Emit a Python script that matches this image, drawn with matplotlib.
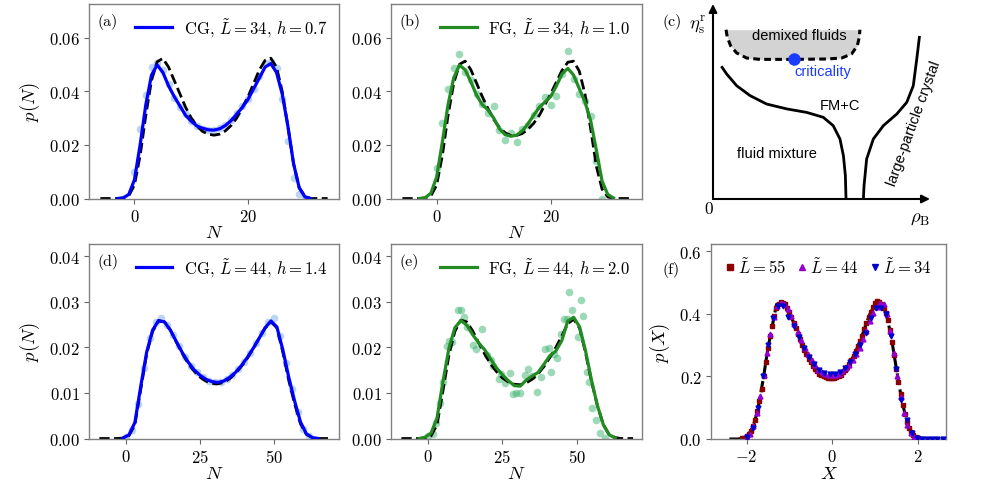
import matplotlib
matplotlib.use("Agg")
import matplotlib.pyplot as plt
import numpy as np

plt.rcParams['font.family'] = 'serif'
plt.rcParams['font.serif'] = ['cmr10']
plt.rcParams['mathtext.fontset'] = 'cm'
plt.rcParams['axes.formatter.use_mathtext'] = True
plt.rcParams['axes.unicode_minus'] = True

# ---------------- data ----------------
# (a) CG, L=34, h=0.7
N_a_th = list(range(-6, 35))
p_a_th = [0, 0, 0, 0, 0.0002, 0.001, 0.005, 0.016, 0.031, 0.044, 0.051, 0.0522, 0.049, 0.044,
          0.039, 0.034, 0.030, 0.027, 0.025, 0.024, 0.0236, 0.024, 0.0252, 0.0272, 0.030, 0.034,
          0.038, 0.043, 0.048, 0.0515, 0.0523, 0.049, 0.040, 0.027, 0.013, 0.004, 0.0008, 0, 0, 0, 0]
N_a_fit = list(range(-3, 32))
p_a_fit = [0, 0.0002, 0.0015, 0.007, 0.020, 0.035, 0.046, 0.0498, 0.047, 0.042, 0.038, 0.0345,
           0.031, 0.0288, 0.027, 0.0262, 0.0256, 0.0255, 0.026, 0.0272, 0.029, 0.0315, 0.034,
           0.037, 0.041, 0.045, 0.049, 0.0503, 0.047, 0.039, 0.027, 0.013, 0.004, 0.0006, 0]
N_a_sim = list(range(0, 31))
p_a_sim = [0.010, 0.026, 0.0385, 0.049, 0.0505, 0.048, 0.0425, 0.0375, 0.034, 0.0315, 0.029,
           0.0272, 0.026, 0.0255, 0.0257, 0.0262, 0.0275, 0.0292, 0.0318, 0.0345, 0.0372, 0.041,
           0.0455, 0.0505, 0.051, 0.0485, 0.037, 0.0215, 0.0075, 0.0015, 0.0002]

# (b) FG, L=34, h=1.0
N_b_th = list(range(-6, 35))
p_b_th = [0, 0, 0, 0, 0.0002, 0.001, 0.005, 0.016, 0.031, 0.043, 0.050, 0.0512, 0.048, 0.043,
          0.038, 0.0335, 0.0295, 0.0265, 0.0245, 0.0235, 0.0235, 0.0242, 0.0258, 0.028, 0.031,
          0.035, 0.039, 0.0435, 0.0478, 0.0508, 0.0512, 0.0475, 0.039, 0.026, 0.012, 0.0035,
          0.0006, 0, 0, 0, 0]
N_b_fit = list(range(-3, 32))
p_b_fit = [0, 0.0003, 0.002, 0.008, 0.021, 0.035, 0.045, 0.0497, 0.048, 0.0435, 0.0385, 0.035,
           0.033, 0.030, 0.026, 0.0238, 0.0232, 0.0236, 0.0252, 0.0278, 0.031, 0.034, 0.036,
           0.038, 0.042, 0.0465, 0.0485, 0.046, 0.041, 0.036, 0.029, 0.018, 0.0065, 0.0015, 0.0002]
N_b_sim = list(range(0, 30))
p_b_sim = [0.0115, 0.0283, 0.041, 0.0488, 0.0538, 0.0473, 0.044, 0.0389, 0.0352, 0.032, 0.0345,
           0.0255, 0.0219, 0.0246, 0.0209, 0.0258, 0.0273, 0.031, 0.0345, 0.0379, 0.0348, 0.0383,
           0.0463, 0.0548, 0.0445, 0.0389, 0.0364, 0.0306, 0.014, 0.0]

# (d) CG, L=44, h=1.4
N_d_th = list(range(-9, 70, 2))
p_d_th = [0, 0, 0, 0, 0.0001, 0.0006, 0.003, 0.0108, 0.0186, 0.0235, 0.0258, 0.0256, 0.0238,
          0.0212, 0.0187, 0.0165, 0.0148, 0.0135, 0.0126, 0.0121, 0.0120, 0.0123, 0.0131, 0.0143,
          0.0158, 0.0176, 0.0197, 0.022, 0.0242, 0.0256, 0.0243, 0.019, 0.0128, 0.0076, 0.0032,
          0.0009, 0.0002, 0, 0, 0]
N_d_fit = list(range(-1, 66, 2))
p_d_fit = [0.0001, 0.0008, 0.0035, 0.0115, 0.019, 0.0238, 0.0259, 0.0256, 0.0238, 0.0213, 0.0189,
           0.0168, 0.0151, 0.0139, 0.0130, 0.0125, 0.0123, 0.0126, 0.0134, 0.0145, 0.016, 0.0178,
           0.0198, 0.022, 0.0243, 0.0258, 0.0245, 0.0195, 0.0135, 0.0082, 0.0036, 0.0010, 0.0002, 0]
N_d_sim = list(range(0, 63, 2))
p_d_sim = [0.0003, 0.0018, 0.0075, 0.0155, 0.022, 0.0255, 0.0265, 0.025, 0.0228, 0.0202, 0.0178,
           0.016, 0.0146, 0.0135, 0.0127, 0.0124, 0.0124, 0.013, 0.0139, 0.0152, 0.0169, 0.0188,
           0.021, 0.0232, 0.0255, 0.0265, 0.0225, 0.0165, 0.0108, 0.0058, 0.002, 0.0005]

# (e) FG, L=44, h=2.0
N_e_th = list(range(-9, 70, 2))
p_e_th = [0, 0, 0, 0, 0.0001, 0.0006, 0.003, 0.0105, 0.0183, 0.0235, 0.026, 0.0256, 0.0236,
          0.021, 0.0186, 0.0164, 0.0147, 0.0133, 0.0124, 0.0119, 0.0118, 0.0122, 0.013, 0.0142,
          0.0158, 0.0178, 0.02, 0.0225, 0.0252, 0.0262, 0.0242, 0.0188, 0.0125, 0.0072, 0.003,
          0.0008, 0.0002, 0, 0, 0]
N_e_fit = list(range(-3, 64, 2))
p_e_fit = [0, 0.0003, 0.0012, 0.0045, 0.0125, 0.0198, 0.0243, 0.0259, 0.0249, 0.0228, 0.021,
           0.0195, 0.0175, 0.0155, 0.014, 0.0127, 0.0116, 0.0115, 0.0128, 0.0137, 0.0145, 0.0163,
           0.0182, 0.0192, 0.0215, 0.0258, 0.0266, 0.0245, 0.0192, 0.0128, 0.0072, 0.003, 0.0008,
           0.0001]
N_e_sim = [0, 1.7, 2.8, 4.0, 5.0, 6.2, 7.1, 8.2, 9.9, 11.1, 12.2, 13.2, 15.0, 16.1, 18.1, 19.8,
           21.0, 22.0, 23.7, 24.6, 26.0, 27.7, 28.6, 29.7, 30.8, 32.5, 33.5, 35.0, 36.7, 38.0,
           39.2, 40.6, 41.5, 42.5, 43.5, 44.6, 45.7, 46.6, 47.4, 48.5, 50.5, 51.4, 52.3, 53.5,
           54.3, 55.3, 56.5, 58.0, 59.5]
p_e_sim = [0.0005, 0.001, 0.0035, 0.0079, 0.0125, 0.0202, 0.0215, 0.0212, 0.0282, 0.0283, 0.0266,
           0.0245, 0.0205, 0.0196, 0.024, 0.0183, 0.0172, 0.016, 0.013, 0.0141, 0.0122, 0.0143,
           0.0097, 0.0100, 0.0100, 0.014, 0.0152, 0.0138, 0.0101, 0.0136, 0.0196, 0.0198,
           0.0146, 0.0185, 0.0176, 0.0229, 0.0262, 0.0262, 0.0321, 0.0282, 0.0222, 0.0303, 0.0268,
           0.0145, 0.0125, 0.0068, 0.004, 0.0013, 0.0002]

# (f) scaled order-parameter distribution
X_th = [round(-2.4 + 0.1 * i, 2) for i in range(51)]
pX_th = [0, 0, 0, 0.002, 0.008, 0.025, 0.06, 0.12, 0.2, 0.29, 0.36, 0.43, 0.435, 0.43, 0.405,
         0.372, 0.335, 0.3, 0.27, 0.245, 0.225, 0.21, 0.202, 0.198, 0.197, 0.2, 0.208, 0.222,
         0.24, 0.265, 0.295, 0.33, 0.37, 0.405, 0.43, 0.437, 0.425, 0.38, 0.31, 0.225, 0.145,
         0.08, 0.035, 0.012, 0.003, 0.0005, 0, 0, 0, 0, 0]
X_55 = [round(-2.1 + 0.05 * i, 3) for i in range(85)]
pX_55 = [0.002, 0.004, 0.008, 0.015, 0.026, 0.042, 0.062, 0.09, 0.122, 0.16, 0.202, 0.245, 0.29,
         0.328, 0.362, 0.392, 0.418, 0.432, 0.437, 0.436, 0.43, 0.42, 0.405, 0.39, 0.372, 0.354,
         0.336, 0.318, 0.300, 0.285, 0.27, 0.257, 0.245, 0.234, 0.224, 0.216, 0.209, 0.204, 0.2,
         0.197, 0.195, 0.194, 0.194, 0.195, 0.197, 0.201, 0.206, 0.213, 0.221, 0.23, 0.241,
         0.253, 0.266, 0.28, 0.296, 0.312, 0.33, 0.35, 0.37, 0.39, 0.407, 0.422, 0.433, 0.44,
         0.438, 0.43, 0.42, 0.404, 0.38, 0.348, 0.31, 0.268, 0.225, 0.183, 0.145, 0.11, 0.08,
         0.055, 0.035, 0.021, 0.012, 0.006, 0.003, 0.001, 0.0]
X_44 = [round(-2.0 + 0.08 * i, 3) for i in range(51)]
pX_44 = [0.004, 0.015, 0.04, 0.082, 0.138, 0.205, 0.275, 0.335, 0.39, 0.425, 0.435, 0.432, 0.415,
         0.393, 0.368, 0.342, 0.315, 0.292, 0.27, 0.252, 0.236, 0.222, 0.213, 0.207, 0.204, 0.203,
         0.205, 0.209, 0.216, 0.226, 0.238, 0.253, 0.27, 0.292, 0.318, 0.346, 0.376, 0.403,
         0.423, 0.434, 0.43, 0.4, 0.345, 0.275, 0.2, 0.135, 0.082, 0.045, 0.02, 0.007, 0.002]
X_34 = [round(-1.98 + 0.12 * i, 3) for i in range(39)]
pX_34 = [0.005, 0.035, 0.1, 0.2, 0.3, 0.385, 0.425, 0.425, 0.39, 0.36, 0.325, 0.29, 0.262, 0.24,
         0.222, 0.212, 0.207, 0.208, 0.214, 0.226, 0.245, 0.27, 0.3, 0.34, 0.385, 0.42, 0.42, 0.4,
         0.33, 0.225, 0.125, 0.06, 0.02, 0.004, 0.0, 0.0, 0.0, 0.0, 0.0]

# (c) schematic phase diagram (axes fraction units)
demix_x = [0.060, 0.066, 0.081, 0.109, 0.155, 0.217, 0.370, 0.524, 0.593, 0.639, 0.665, 0.674, 0.677]
demix_y = [0.868, 0.829, 0.786, 0.749, 0.723, 0.716, 0.716, 0.718, 0.723, 0.744, 0.786, 0.829, 0.868]
left_x = [0.042, 0.063, 0.109, 0.171, 0.247, 0.340, 0.432, 0.508, 0.554, 0.585, 0.601, 0.610, 0.613]
left_y = [0.675, 0.641, 0.581, 0.530, 0.487, 0.462, 0.444, 0.419, 0.376, 0.308, 0.222, 0.120, 0.0]
right_x = [0.693, 0.696, 0.708, 0.739, 0.785, 0.847, 0.893, 0.923, 0.939, 0.951]
right_y = [0.0, 0.068, 0.205, 0.308, 0.376, 0.436, 0.496, 0.581, 0.718, 0.829]
crit_point = (0.375, 0.718)

W, H = 981, 485
fig = plt.figure(figsize=(W / 100, H / 100), dpi=100)


def rect(l, t, r, b):
    return [l / W, 1 - b / H, (r - l) / W, (b - t) / H]


def style(ax):
    for s in ax.spines.values():
        s.set_color('0.5')
        s.set_linewidth(1.0)
    ax.tick_params(direction='out', length=3.5, width=0.8, color='0.4', labelsize=12, pad=3)


lw = 2.0
blue_pt = '#7aaaf0'
green_pt = 'mediumseagreen'

panels = [
    ('(a)', rect(89, 5, 339, 199.5), N_a_th, p_a_th, N_a_fit, p_a_fit, N_a_sim, p_a_sim,
     'blue', blue_pt, r'CG, $\tilde{L}=34$, $h=0.7$', (-8, 36), (0, 0.0725), [0, 20],
     [0, 0.02, 0.04, 0.06], True),
    ('(b)', rect(391, 5, 642, 199.5), N_b_th, p_b_th, N_b_fit, p_b_fit, N_b_sim, p_b_sim,
     'forestgreen', green_pt, r'FG, $\tilde{L}=34$, $h=1.0$', (-8, 36), (0, 0.0725), [0, 20],
     [0, 0.02, 0.04, 0.06], False),
    ('(d)', rect(89, 245, 339, 439.5), N_d_th, p_d_th, N_d_fit, p_d_fit, N_d_sim, p_d_sim,
     'blue', blue_pt, r'CG, $\tilde{L}=44$, $h=1.4$', (-12.5, 72), (0, 0.0427), [0, 25, 50],
     [0, 0.01, 0.02, 0.03, 0.04], True),
    ('(e)', rect(391, 245, 642, 439.5), N_e_th, p_e_th, N_e_fit, p_e_fit, N_e_sim, p_e_sim,
     'forestgreen', green_pt, r'FG, $\tilde{L}=44$, $h=2.0$', (-12.5, 72), (0, 0.0427), [0, 25, 50],
     [0, 0.01, 0.02, 0.03, 0.04], False),
]

for lab, r, nth, pth, nfit, pfit, nsim, psim, col, ptcol, leg, xl, yl, xt, yt, ylab in panels:
    ax = fig.add_axes(r)
    ax.plot(nsim, psim, 'o', ms=5.5, color=ptcol, alpha=0.5, mec='none', zorder=1)
    ax.plot(nth, pth, '--', color='k', lw=lw, zorder=2)
    ax.plot(nfit, pfit, '-', color=col, lw=lw + 0.3, label=leg, zorder=3)
    ax.set_xlim(*xl)
    ax.set_ylim(*yl)
    ax.set_xticks(xt)
    ax.set_yticks(yt)
    ax.yaxis.set_major_formatter(matplotlib.ticker.FormatStrFormatter('$%.2f$'))
    ax.xaxis.set_major_formatter(matplotlib.ticker.FormatStrFormatter('$%d$'))
    ax.set_xlabel('$N$', fontsize=13.5, labelpad=0)
    if ylab:
        ax.set_ylabel('$p(N)$', fontsize=13.5, labelpad=5)
    style(ax)
    ax.text(0.035, 0.915, lab, transform=ax.transAxes, fontsize=11.5, va='center', ha='left')
    ax.legend(loc='upper right', frameon=False, fontsize=12, handlelength=2.2,
              handletextpad=0.7, borderaxespad=0.3)

# (f)
axf = fig.add_axes(rect(711, 245, 946, 440))
axf.plot(X_th, pX_th, '--', color='k', lw=2.2, zorder=1)
axf.plot(X_55, pX_55, 's', ms=3.5, color='darkred', ls='none', label=r'$\tilde{L}=55$', zorder=2)
axf.plot(X_44, pX_44, '^', ms=3.5, color='darkviolet', ls='none', label=r'$\tilde{L}=44$', zorder=3)
axf.plot(X_34, pX_34, 'v', ms=3.5, color='mediumblue', ls='none', label=r'$\tilde{L}=34$', zorder=4)
axf.set_xlim(-2.83, 2.66)
axf.set_ylim(0, 0.623)
axf.set_xticks([-2, 0, 2])
axf.set_yticks([0, 0.2, 0.4, 0.6])
axf.yaxis.set_major_formatter(matplotlib.ticker.FormatStrFormatter('$%.1f$'))
axf.xaxis.set_major_formatter(matplotlib.ticker.FuncFormatter(lambda v, p: '$%d$' % v))
axf.set_xlabel('$X$', fontsize=13.5, labelpad=0)
axf.set_ylabel('$p(X)$', fontsize=13.5, labelpad=5)
style(axf)
fig.text(662 / W, 1 - 270 / H, '(f)', fontsize=11.5, va='center', ha='left')
axf.legend(loc='upper center', ncol=3, frameon=False, fontsize=12, handlelength=0.5,
           handletextpad=0.25, columnspacing=0.7, borderaxespad=0.3, markerscale=1.2)

# (c) schematic
axc = fig.add_axes(rect(713, 5, 930, 200))
axc.set_xlim(0, 1)
axc.set_ylim(0, 1)
axc.axis('off')
sans = 'Liberation Sans'
axc.fill_between(demix_x, demix_y, max(demix_y), color='lightgray', lw=0, zorder=1)
axc.plot(demix_x, demix_y, '--', color='k', lw=2.2, dashes=(2.2, 1.4), zorder=2)
axc.plot(left_x, left_y, '-', color='k', lw=2, zorder=2)
axc.plot(right_x, right_y, '-', color='k', lw=2, zorder=2)
axc.plot([crit_point[0]], [crit_point[1]], 'o', ms=9, color='#1a3cff', mec='none', zorder=3)
axc.annotate('', xy=(1.0, 0), xytext=(0, 0), xycoords='axes fraction',
             arrowprops=dict(arrowstyle='-|>', lw=1.5, color='k', mutation_scale=12,
                             shrinkA=0, shrinkB=0), annotation_clip=False)
axc.annotate('', xy=(0, 1.0), xytext=(0, 0), xycoords='axes fraction',
             arrowprops=dict(arrowstyle='-|>', lw=1.5, color='k', mutation_scale=12,
                             shrinkA=0, shrinkB=0), annotation_clip=False)
axc.text(0.398, 0.842, 'demixed fluids', family=sans, fontsize=10.5, ha='center', va='center')
axc.text(0.505, 0.655, 'criticality', family=sans, fontsize=10.5, ha='center', va='center',
         color='#1a3cff')
axc.text(0.585, 0.482, 'FM+C', family=sans, fontsize=10.5, ha='center', va='center')
axc.text(0.293, 0.234, 'fluid mixture', family=sans, fontsize=10.5, ha='center', va='center')
axc.text(0.925, 0.393, 'large-particle crystal', family=sans, fontsize=10.5, ha='center',
         va='center', rotation=70)
axc.text(-0.017, -0.045, '$0$', fontsize=12.5, ha='center', va='center')
axc.text(-0.07, 0.895, r'$\eta_{\rm s}^{\rm r}$', fontsize=13.5, ha='center', va='center')
axc.text(0.955, -0.095, r'$\rho_{\rm B}$', fontsize=13.5, ha='center', va='center')
fig.text(662 / W, 1 - 22 / H, '(c)', fontsize=11.5, va='center', ha='left')

fig.savefig('out.png', dpi=100)
